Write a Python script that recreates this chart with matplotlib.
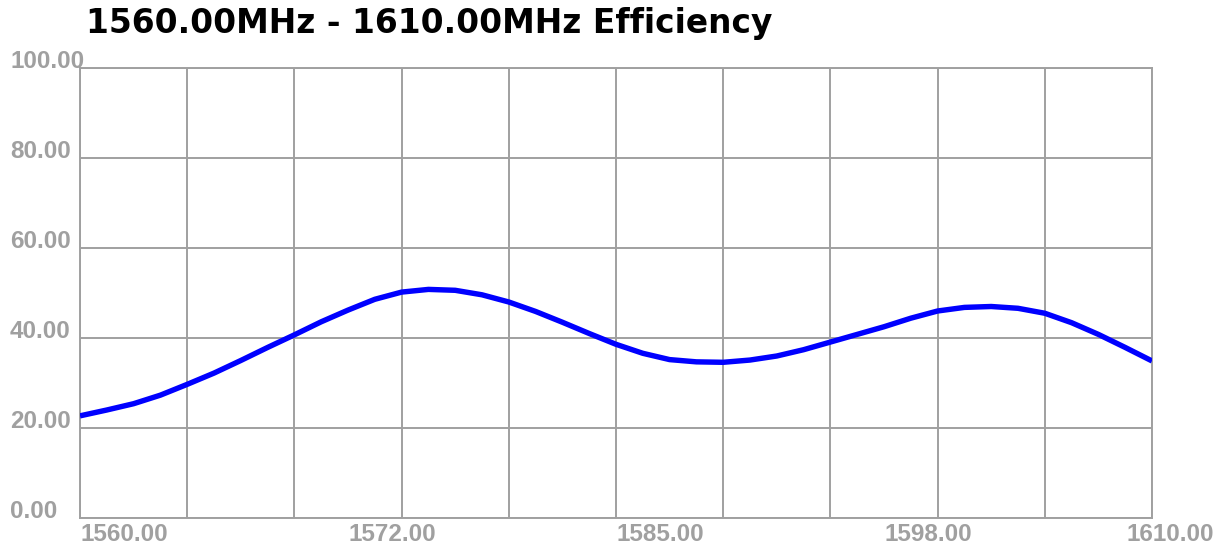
import matplotlib
matplotlib.use("Agg")
import matplotlib.pyplot as plt
import matplotlib.transforms as mtransforms

# ---- data ----
freq_mhz = [1560.0, 1561.25, 1562.5, 1563.75, 1565.0, 1566.25, 1567.5, 1568.75,
            1570.0, 1571.25, 1572.5, 1573.75, 1575.0, 1576.25, 1577.5, 1578.75,
            1580.0, 1581.25, 1582.5, 1583.75, 1585.0, 1586.25, 1587.5, 1588.75,
            1590.0, 1591.25, 1592.5, 1593.75, 1595.0, 1596.25, 1597.5, 1598.75,
            1600.0, 1601.25, 1602.5, 1603.75, 1605.0, 1606.25, 1607.5, 1608.75,
            1610.0]
efficiency = [22.7, 24.0, 25.4, 27.3, 29.7, 32.2, 35.0, 37.9,
              40.7, 43.6, 46.2, 48.6, 50.2, 50.8, 50.6, 49.6,
              48.0, 45.9, 43.5, 41.0, 38.6, 36.6, 35.2, 34.7,
              34.6, 35.1, 36.0, 37.4, 39.1, 40.8, 42.5, 44.4,
              46.0, 46.8, 47.0, 46.6, 45.5, 43.4, 40.8, 37.9,
              34.9]
x_label_pos = [1560.0, 1572.5, 1585.0, 1597.5, 1610.0]
x_label_txt = ["1560.00", "1572.00", "1585.00", "1598.00", "1610.00"]
y_ticks = [0, 20, 40, 60, 80, 100]
y_label_txt = ["0.00", "20.00", "40.00", "60.00", "80.00", "100.00"]
x_grid = [1560, 1565, 1570, 1575, 1580, 1585, 1590, 1595, 1600, 1605, 1610]
title = "1560.00MHz - 1610.00MHz Efficiency"

W, H = 1226, 552
fig = plt.figure(figsize=(W / 100, H / 100), dpi=100)
fig.patch.set_facecolor("white")
ax = fig.add_axes([80 / W, 1 - 518 / H, (1152 - 80) / W, (518 - 68) / H])
ax.set_xlim(1560, 1610)
ax.set_ylim(0, 100)

grid_c = "#a0a0a0"
for s in ax.spines.values():
    s.set_color(grid_c)
    s.set_linewidth(1.4)
ax.set_xticks(x_grid)
ax.set_yticks(y_ticks)
ax.tick_params(length=0, labelbottom=False, labelleft=False)
ax.grid(True, color=grid_c, linewidth=1.4)
ax.set_axisbelow(True)

ax.plot(freq_mhz, efficiency, color="#0000ff", linewidth=3.9,
        solid_capstyle="butt", solid_joinstyle="round", zorder=3)

tick_font = dict(family="Liberation Sans", weight="bold", size=17.5, color=grid_c)

# x labels
bt = mtransforms.blended_transform_factory(ax.transData, fig.transFigure)
for i, (p, t) in enumerate(zip(x_label_pos, x_label_txt)):
    dx = 0
    if i == len(x_label_pos) - 1:
        dx = -26
    off = mtransforms.ScaledTranslation(dx / 100, 0, fig.dpi_scale_trans)
    ax.text(p, 1 - 541 / H, t, transform=bt + off, ha="left", va="baseline",
            clip_on=False, **tick_font)

# y labels
bt2 = mtransforms.blended_transform_factory(fig.transFigure, ax.transData)
for v, t in zip(y_ticks, y_label_txt):
    off = mtransforms.ScaledTranslation(0, 0.5 / 100, fig.dpi_scale_trans)
    ax.text(10 / W, v, t, transform=bt2 + off, ha="left", va="baseline",
            clip_on=False, **tick_font)

fig.text(86 / W, 1 - 33.5 / H, title, ha="left", va="baseline",
         family="DejaVu Sans", weight="bold", size=23.7, color="black")

fig.savefig("out.png", dpi=100, facecolor="white")
